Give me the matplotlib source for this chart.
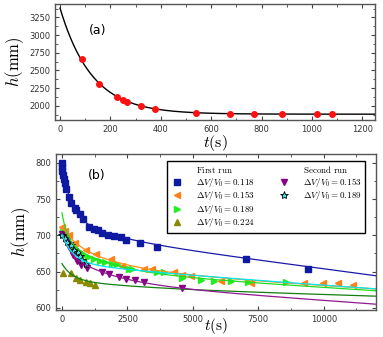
import numpy as np
import matplotlib
matplotlib.use("Agg")
import matplotlib.pyplot as plt
from matplotlib.lines import Line2D

plt.rcParams['mathtext.fontset'] = 'cm'
plt.rcParams['font.family'] = 'DejaVu Sans'

# ---- panel (a) data
t_a = [86, 155, 225, 249, 267, 320, 376, 538, 675, 770, 880, 1019, 1081]
h_a = [2663, 2310, 2122, 2085, 2056, 2000, 1962, 1897, 1887, 1883, 1883, 1883, 1883]
fit_a = (1882, 1500, 126)   # h_inf, amplitude, tau

# ---- panel (b) data, first run
t_118 = [0, 10, 20, 40, 70, 110, 160, 260, 365, 480, 555, 680, 810, 1050, 1220,
         1370, 1540, 1750, 1980, 2240, 2430, 3000, 3640, 7020, 9380]
h_118 = [799, 794, 789, 783, 777, 772, 764, 753, 744, 738, 735, 730, 723, 712, 709,
         707, 703, 700, 699, 697, 694, 690, 684, 667, 654]
t_153 = [0, 120, 260, 500, 900, 1300, 1860, 2300, 3130, 3450, 4280, 4600, 4920,
         6070, 7210, 9250, 9960, 10530, 11100]
h_153 = [711, 706, 701, 690, 680, 674, 668, 657, 654, 654, 649, 645, 644,
         637, 634, 634, 634, 634, 631]
t_189 = [40, 150, 300, 450, 600, 720, 840, 1000, 1220, 1450, 1660, 1900, 2110, 2560,
         2690, 3640, 3900, 4600, 5300, 5810, 6450, 7090, 8550]
h_189 = [705, 700, 690, 684, 679, 676, 673, 670, 668, 665, 663.5, 661, 660, 654,
         653, 650, 649, 641, 638, 637, 637, 636, 636]
t_224 = [40, 330, 520, 700, 900, 1090, 1280]
h_224 = [648, 648, 641, 638, 635, 634, 632]

# second run
t2_153 = [20, 80, 180, 300, 430, 580, 720, 960, 1540, 1800, 2180, 2430, 2780, 3130, 4600]
h2_153 = [702, 697, 692, 686, 673, 664, 659, 655, 650, 646, 643, 640, 639, 635, 627]
t2_189 = [20, 100, 200, 330, 450, 600, 680, 780, 900]
h2_189 = [701, 696, 691, 686, 680, 677, 672, 666, 661]

# fit parameters: c0, k, a1, tau1, a2, tau2
fit_118 = (701.8, 4.8e-3, 68, 320, 30, 1500)
fit_153 = (653.6, 2.3e-3, 19.4, 540, 39, 2000)
fit_189 = (651.1, 2.3e-3, 37, 210, 42.8, 1650)
fit_224 = (629.2, 1.1e-3, 21.6, 390, 10.2, 2600)
fit2_153 = (636.2, 2.6e-3, 25.3, 250, 42.5, 1690)
fit2_189 = (656, 2.5e-3, 37.9, 430, 7.1, 3150)


def fit(t, c0, k, a1, tau1, a2, tau2):
    return c0 - k * t + a1 * np.exp(-t / tau1) + a2 * np.exp(-t / tau2)


def style(ax):
    ax.tick_params(direction='in', top=True, right=True, labelsize=6,
                   labelcolor='#333333', color='#444444', length=3, width=0.8)
    ax.tick_params(which='minor', direction='in', top=True, right=True,
                   length=1.8, width=0.6, color='#444444')
    for s in ax.spines.values():
        s.set_color('#555555')
        s.set_linewidth(1.0)


fig = plt.figure(figsize=(3.83, 3.37), dpi=100)

# ---- (a)
ax1 = fig.add_axes([0.1436, 0.644, 0.8355, 0.344])
tt = np.linspace(0, 1300, 400)
ax1.plot(tt, fit_a[0] + fit_a[1] * np.exp(-tt / fit_a[2]), color='black', lw=1.0)
ax1.plot(t_a, h_a, 'o', color='#ff1010', ms=4, mec='#ff1010')
ax1.set_xlim(-20, 1250)
ax1.set_ylim(1800, 3440)
ax1.set_xticks([0, 200, 400, 600, 800, 1000, 1200])
ax1.set_xticks(np.arange(100, 1300, 200), minor=True)
ax1.set_yticks([2000, 2250, 2500, 2750, 3000, 3250])
ax1.set_yticks(np.arange(1875, 3400, 250), minor=True)
style(ax1)
ax1.text(0.105, 0.74, '(a)', transform=ax1.transAxes, fontsize=9)
ax1.set_xlabel(r'$t(\mathrm{s})$', fontsize=11.5)
ax1.xaxis.set_label_coords(0.5, -0.11)
ax1.set_ylabel(r'$h(\mathrm{mm})$', fontsize=12, labelpad=2)

# ---- (b)
ax2 = fig.add_axes([0.146, 0.080, 0.836, 0.463])
tb = np.linspace(0, 12000, 800)
mk = dict(ls='none', ms=4.5)
ax2.plot(t_118, h_118, 's', color='#0b1a9e', **mk)
ax2.plot(t_153, h_153, '<', color='#ff8019', **mk)
ax2.plot(t_189, h_189, '>', color='#22ee22', **mk)
ax2.plot(t_224, h_224, '^', color='#8a8a00', **mk)
ax2.plot(t2_153, h2_153, 'v', color='#860086', **mk)
ax2.plot(t2_189, h2_189, '*', mfc='#40e0e0', mec='black', mew=0.6, ls='none', ms=6)

ax2.plot(tb, fit(tb, *fit_118), color='#1a1aa8', lw=0.9)
ax2.plot(tb, fit(tb, *fit_153), color='#ff8c1a', lw=0.9)
ax2.plot(tb, fit(tb, *fit_189), color='#22dd22', lw=0.9)
ax2.plot(tb, fit(tb, *fit_224), color='#108010', lw=0.9)
ax2.plot(tb, fit(tb, *fit2_153), color='#901a90', lw=0.9)
ax2.plot(tb, fit(tb, *fit2_189), color='#00e5ee', lw=0.9)

ax2.set_xlim(-230, 12000)
ax2.set_ylim(597, 812)
ax2.set_xticks([0, 2500, 5000, 7500, 10000])
ax2.set_xticks(np.arange(1250, 12000, 2500), minor=True)
ax2.set_yticks([600, 650, 700, 750, 800])
ax2.set_yticks(np.arange(625, 812, 50), minor=True)
style(ax2)
ax2.text(0.1, 0.84, '(b)', transform=ax2.transAxes, fontsize=9)
ax2.set_xlabel(r'$t(\mathrm{s})$', fontsize=11)
ax2.xaxis.set_label_coords(0.5, -0.04)
ax2.set_ylabel(r'$h(\mathrm{mm})$', fontsize=12, labelpad=2)

blank = Line2D([], [], ls='none')
handles = [blank,
           Line2D([], [], marker='s', color='#0b1a9e', ls='none', ms=4.5),
           Line2D([], [], marker='<', color='#ff8019', ls='none', ms=4.5),
           Line2D([], [], marker='>', color='#22ee22', ls='none', ms=4.5),
           Line2D([], [], marker='^', color='#8a8a00', ls='none', ms=4.5),
           blank,
           Line2D([], [], marker='v', color='#860086', ls='none', ms=4.5),
           Line2D([], [], marker='*', mfc='#40e0e0', mec='black', mew=0.6, ls='none', ms=6),
           blank, blank]
labels = [r'$\mathrm{First\ run}$',
          r'$\Delta V/V_0=0.118$', r'$\Delta V/V_0=0.153$',
          r'$\Delta V/V_0=0.189$', r'$\Delta V/V_0=0.224$',
          r'$\mathrm{Second\ run}$',
          r'$\Delta V/V_0=0.153$', r'$\Delta V/V_0=0.189$', '', '']
leg = ax2.legend(handles, labels, ncol=2, fontsize=6.5, loc='upper left',
                 bbox_to_anchor=(0.347, 0.506, 0.619, 0.451), mode='expand',
                 fancybox=False, edgecolor='black', framealpha=1,
                 handlelength=1.4, handletextpad=1.4, labelspacing=0.05,
                 borderpad=0.4, columnspacing=1.0, borderaxespad=0)
leg.get_frame().set_linewidth(1.0)

fig.savefig('out.png', dpi=100)
